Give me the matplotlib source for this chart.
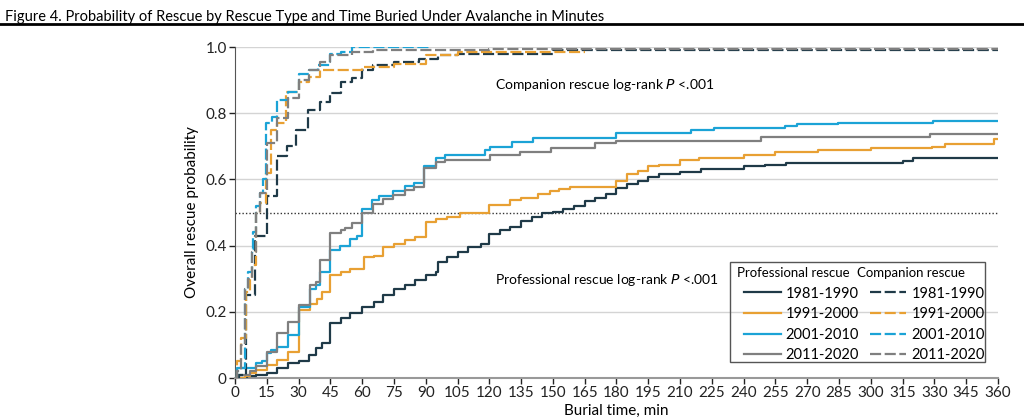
import matplotlib
matplotlib.use("Agg")
import matplotlib.pyplot as plt
from matplotlib.lines import Line2D
from matplotlib.patches import Rectangle

plt.rcParams["font.family"] = ["Lato", "DejaVu Sans"]

##########

# Data (Kaplan-Meier style step curves)
periods = ["1981-1990", "1991-2000", "2001-2010", "2011-2020"]
colors = ["#1f3a48", "#e8a033", "#1ba3d6", "#7f7f7f"]

# Professional rescue
prof_t_1981 = [0, 5.5, 10, 15, 20, 25, 30, 35, 38, 41, 45, 50, 54.5, 60, 65.5, 70, 75, 80, 85, 90, 95, 96,
               100, 105, 110, 116, 120, 125, 130, 135, 140, 145, 150, 155, 160, 165, 170, 175, 180, 185, 190,
               195, 200, 210, 220, 240, 250, 260, 315, 320, 360]
prof_p_1981 = [0, 0.005, 0.01, 0.016, 0.03, 0.045, 0.05, 0.07, 0.09, 0.105, 0.165, 0.18, 0.195, 0.215, 0.23,
               0.25, 0.27, 0.28, 0.295, 0.31, 0.32, 0.35, 0.366, 0.38, 0.395, 0.405, 0.436, 0.446, 0.455, 0.474,
               0.487, 0.50, 0.503, 0.51, 0.52, 0.535, 0.545, 0.555, 0.573, 0.585, 0.595, 0.608, 0.616, 0.623,
               0.63, 0.64, 0.645, 0.651, 0.656, 0.666, 0.666]

prof_t_1991 = [0, 4.7, 7, 10, 15, 20, 25, 30, 35.5, 38.7, 41, 45, 50, 54.5, 61, 65.5, 70, 75, 80, 85, 90, 95,
               100, 106, 120, 130, 135, 143, 148.6, 153, 158, 180, 185, 190, 195, 200, 210, 219, 240, 255, 275,
               300, 329, 335, 358, 360]
prof_p_1991 = [0, 0.006, 0.014, 0.024, 0.04, 0.055, 0.08, 0.205, 0.225, 0.24, 0.26, 0.31, 0.32, 0.33, 0.366,
               0.37, 0.396, 0.406, 0.416, 0.426, 0.471, 0.481, 0.486, 0.50, 0.522, 0.537, 0.545, 0.556, 0.564,
               0.572, 0.578, 0.595, 0.615, 0.625, 0.64, 0.645, 0.66, 0.665, 0.674, 0.682, 0.689, 0.694, 0.699,
               0.706, 0.721, 0.721]

prof_t_2001 = [0, 0.8, 10, 12.6, 15, 17, 20, 25, 30, 35.5, 38, 40, 45, 49.6, 54.3, 57.5, 60, 64.5, 68, 74.5,
               80, 84.4, 89, 95, 99, 118, 120.3, 130.5, 140.7, 180, 215, 226, 259.5, 265, 284.7, 329.5, 360]
prof_p_2001 = [0, 0.03, 0.045, 0.05, 0.075, 0.085, 0.095, 0.13, 0.215, 0.27, 0.28, 0.32, 0.387, 0.40, 0.42,
               0.43, 0.51, 0.537, 0.55, 0.565, 0.58, 0.59, 0.641, 0.665, 0.675, 0.689, 0.699, 0.714, 0.724,
               0.739, 0.749, 0.754, 0.761, 0.766, 0.771, 0.776, 0.776]

prof_t_2011 = [0, 0.8, 7, 10, 15, 20, 25, 30, 35.5, 38, 40, 45, 50, 52, 55, 60, 65, 70, 74.5, 80, 84.4, 89, 95,
               99, 120.3, 134.4, 149.3, 170, 180, 248, 328, 360]
prof_p_2011 = [0, 0.01, 0.02, 0.035, 0.08, 0.135, 0.17, 0.22, 0.28, 0.29, 0.356, 0.438, 0.446, 0.453, 0.468,
               0.498, 0.527, 0.542, 0.552, 0.567, 0.577, 0.636, 0.652, 0.66, 0.674, 0.684, 0.694, 0.709, 0.717,
               0.729, 0.736, 0.738]

# Companion rescue
comp_t_1981 = [0, 2, 5, 9.4, 15, 19.7, 24.4, 29, 34.6, 40, 45, 50, 55, 60, 65, 75, 87, 96, 105, 150, 360]
comp_p_1981 = [0, 0.01, 0.25, 0.43, 0.55, 0.67, 0.70, 0.75, 0.81, 0.835, 0.86, 0.895, 0.905, 0.93, 0.945,
               0.955, 0.965, 0.975, 0.98, 0.99, 0.995]

comp_t_1991 = [0, 1, 3, 5, 7, 8, 10, 12, 14.6, 16.9, 20, 24, 30, 35, 40, 60, 75, 90, 105, 165]
comp_p_1991 = [0, 0.05, 0.12, 0.26, 0.30, 0.34, 0.50, 0.53, 0.62, 0.75, 0.77, 0.865, 0.895, 0.91, 0.93, 0.94,
               0.95, 0.976, 0.986, 0.986]

comp_t_2001 = [0, 1, 4.7, 6.3, 7.9, 8.7, 10, 11.8, 13.4, 14.6, 17.3, 19.7, 25, 30, 35, 39, 45, 50, 55, 92]
comp_p_2001 = [0, 0.03, 0.27, 0.32, 0.39, 0.44, 0.52, 0.56, 0.60, 0.77, 0.79, 0.84, 0.865, 0.92, 0.93, 0.945,
               0.98, 0.985, 1.0, 1.0]

comp_t_2011 = [0, 1, 3, 4.7, 6, 8, 10, 12, 15, 19.7, 25, 30, 35, 40, 45, 55, 65, 120, 360]
comp_p_2011 = [0, 0.02, 0.1, 0.27, 0.30, 0.38, 0.50, 0.56, 0.71, 0.785, 0.845, 0.90, 0.93, 0.955, 0.975,
               0.985, 0.99, 0.995, 0.995]

prof_t = [prof_t_1981, prof_t_1991, prof_t_2001, prof_t_2011]
prof_p = [prof_p_1981, prof_p_1991, prof_p_2001, prof_p_2011]
comp_t = [comp_t_1981, comp_t_1991, comp_t_2001, comp_t_2011]
comp_p = [comp_p_1981, comp_p_1991, comp_p_2001, comp_p_2011]

x_ticks = list(range(0, 361, 15))
y_ticks = [0, 0.2, 0.4, 0.6, 0.8, 1.0]
y_labels = ["0", "0.2", "0.4", "0.6", "0.8", "1.0"]

##########

fig = plt.figure(figsize=(10.24, 4.2), dpi=100)
ax = fig.add_axes([0.2295, 0.1, 0.745, 0.788])

# Grid and reference line
for y in y_ticks[1:]:
    ax.axhline(y, color="#d4d4d4", lw=1.0, zorder=0)
ax.axhline(0.5, color="#333333", lw=1.0, ls=(0, (1, 1.5)), zorder=1)

prof_handles = []
comp_handles = []
for i in range(4):
    h, = ax.step(prof_t[i], prof_p[i], where="post", color=colors[i], lw=1.6, zorder=3)
    prof_handles.append(h)
for i in range(4):
    h, = ax.step(comp_t[i], comp_p[i], where="post", color=colors[i], lw=1.6,
                 dashes=(5, 1.6), zorder=3)
    comp_handles.append(h)

ax.set_xlim(0, 360)
ax.set_ylim(0, 1.0)
ax.set_xticks(x_ticks)
ax.set_yticks(y_ticks)
ax.set_yticklabels(y_labels)
ax.tick_params(axis="both", labelsize=11, length=4, width=1, colors="#222222", direction="out", pad=2)
for side in ["top", "right"]:
    ax.spines[side].set_visible(False)
ax.spines["left"].set_color("#555555")
ax.spines["bottom"].set_color("#999999")
ax.spines["bottom"].set_linewidth(1.5)

ax.set_xlabel("Burial time, min", fontsize=11)
ax.set_ylabel("Overall rescue probability", fontsize=11)
ax.xaxis.set_label_coords(0.5, -0.078)
ax.yaxis.set_label_coords(-0.047, 0.5)

ax.text(122.5, 0.885, "Companion rescue log-rank $\\it{P}$ <.001", fontsize=10, va="center")
ax.text(122.5, 0.296, "Professional rescue log-rank $\\it{P}$ <.001", fontsize=10, va="center")

# Legend: box, column headers, entries
ax.add_patch(Rectangle((0.649, 0.048), 0.334, 0.302, transform=ax.transAxes, fill=False,
                       edgecolor="#555555", lw=1.0, zorder=5))
ax.text(0.658, 0.318, "Professional rescue", transform=ax.transAxes, fontsize=9.5, va="center")
ax.text(0.815, 0.318, "Companion rescue", transform=ax.transAxes, fontsize=9.5, va="center")
leg = ax.legend(prof_handles + comp_handles, periods + periods, ncol=2, frameon=False,
                loc="upper left", bbox_to_anchor=(0.654, 0.307), fontsize=10.5,
                handlelength=2.5, handletextpad=0.35, columnspacing=0.75, labelspacing=0.45,
                borderpad=0.2)

# Title and rule
fig.text(0.005, 0.975, "Figure 4. Probability of Rescue by Rescue Type and Time Buried Under Avalanche in Minutes",
         fontsize=10.5, va="top", ha="left")
fig.add_artist(Line2D([0, 1], [0.943, 0.943], transform=fig.transFigure, color="black", lw=2))

fig.savefig("out.png", dpi=100)
